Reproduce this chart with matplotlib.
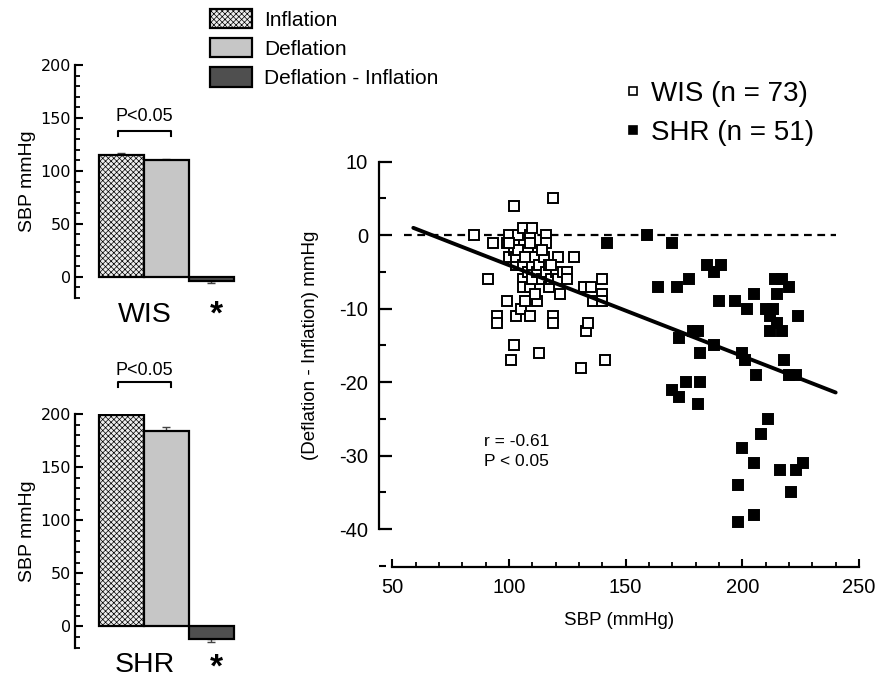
import numpy as np
import matplotlib
matplotlib.use('Agg')
import matplotlib.pyplot as plt
from matplotlib.patches import Patch
from matplotlib.lines import Line2D
from matplotlib.ticker import MultipleLocator

plt.rcParams['font.family'] = ['Liberation Sans', 'DejaVu Sans']
plt.rcParams['axes.unicode_minus'] = False
plt.rcParams['mathtext.fontset'] = 'custom'
plt.rcParams['mathtext.rm'] = 'Liberation Sans'
plt.rcParams['mathtext.bf'] = 'Liberation Sans:bold'
plt.rcParams['hatch.color'] = '#a6a6a6'
plt.rcParams['hatch.linewidth'] = 0.5

# bar panels: Inflation, Deflation, Deflation - Inflation
bar_labels = ['Inflation', 'Deflation', 'Deflation - Inflation']
wis_sbp = [115, 110, -4]
wis_err = [1.5, 1.5, 1.5]
shr_sbp = [199, 184, -12]
shr_err = [3, 3.5, 3]

# scatter: SBP (mmHg) vs (Deflation - Inflation) mmHg
wis_x = [85, 91, 93, 95, 95, 99, 99, 100, 100, 101, 102, 102, 102, 102, 103, 103, 103, 104,
         105, 106, 106, 106, 106, 107, 108, 108, 109, 109, 109, 109, 110, 110, 110, 111, 112,
         112, 113, 113, 114, 115, 116, 116, 116, 117, 117, 118, 119, 119, 119, 120, 121, 121,
         122, 123, 125, 125, 128, 131, 132, 133, 134, 135, 136, 140, 140, 140, 141, 104, 107,
         111, 114, 118, 100]
wis_y = [0, -6, -1, -11, -12, -9, -1, 0, -3, -17, 4, -15, -1, -2, -4, -3, -11, 0,
         -10, 1, -4, -6, -7, -9, -2, -5, 0, -1, -11, -7, 1, -4, -6, -3, -9,
         -5, -16, -4, -6, -3, 0, -1, -5, -7, -4, -6, 5, -11, -12, -5, -3, -6,
         -8, -5, -5, -6, -3, -18, -7, -13, -12, -7, -9, -6, -8, -9, -17, -2, -3,
         -8, -2, -4, -1]
shr_x = [142, 159, 170, 164, 172, 177, 185, 188, 191, 190, 173, 179, 181, 182, 188, 170, 173,
         176, 182, 181, 197, 202, 205, 200, 201, 206, 210, 212, 214, 217, 220, 215, 212, 215,
         217, 218, 220, 223, 224, 211, 208, 200, 205, 198, 198, 205, 216, 223, 226, 221, 213]
shr_y = [-1, 0, -1, -7, -7, -6, -4, -5, -4, -9, -14, -13, -13, -16, -15, -21, -22,
         -20, -20, -23, -9, -10, -8, -16, -17, -19, -10, -11, -6, -6, -7, -8, -13, -12,
         -13, -17, -19, -19, -11, -25, -27, -29, -31, -34, -39, -38, -32, -32, -31, -35, -10]
fit_x = [59, 240]
fit_y = [1.0, -21.4]
ref_x = [55, 240]

fig = plt.figure(figsize=(8.79, 6.82), dpi=100)

face = ['#ededed', '#c6c6c6', '#4f4f4f']
hatch = ['xxxxxx', None, None]


def bar_panel(ax, vals, errs, group, bracket_y, p_y, star_y):
    pos = np.arange(len(vals))
    lo = [e if v < 0 else 0 for v, e in zip(vals, errs)]
    hi = [e if v >= 0 else 0 for v, e in zip(vals, errs)]
    for i in range(len(vals)):
        ax.bar(pos[i], vals[i], width=0.98, color=face[i], hatch=hatch[i],
               edgecolor='black', linewidth=1.6, zorder=2)
    ax.errorbar(pos, vals, yerr=[lo, hi], fmt='none', ecolor='#444444',
                elinewidth=1, capsize=3, capthick=1, zorder=1)
    ax.set_xlim(-1.033, 2.6)
    ax.set_ylim(-20, 200)
    for s in ['top', 'right', 'bottom']:
        ax.spines[s].set_visible(False)
    ax.spines['left'].set_linewidth(1.6)
    ax.spines['left'].set_bounds(-20, 200)
    ax.set_xticks([])
    ax.yaxis.set_major_locator(MultipleLocator(50))
    ax.yaxis.set_minor_locator(MultipleLocator(10))
    ax.tick_params(axis='y', which='major', direction='in', length=6, width=1.5,
                   labelsize=11.5, pad=3)
    ax.tick_params(axis='y', which='minor', direction='in', length=3.5, width=1.3)
    for t in ax.get_yticklabels():
        t.set_family('DejaVu Sans')
    ax.set_ylabel('SBP mmHg', fontsize=14, labelpad=3)
    ax.patch.set_alpha(0)
    x0, x1 = -0.07, 1.09
    ax.plot([x0, x0, x1, x1], [bracket_y - 5, bracket_y, bracket_y, bracket_y - 5],
            color='black', lw=1.5, clip_on=False)
    ax.text((x0 + x1) / 2, p_y, 'P<0.05', ha='center', va='center', fontsize=13)
    ax.text(0.52, -36, group, ha='center', va='center', fontsize=20.5, clip_on=False)
    ax.text(2.12, star_y, r'$\mathbf{*}$', ha='center', va='baseline', fontsize=24,
            clip_on=False)


ax1 = fig.add_axes([75 / 879, 1 - 298 / 682, 163.5 / 879, 233 / 682])
bar_panel(ax1, wis_sbp, wis_err, 'WIS', 138, 151.5, -43.6)
ax2 = fig.add_axes([75 / 879, 1 - 647.7 / 682, 163.5 / 879, 233.7 / 682])
bar_panel(ax2, shr_sbp, shr_err, 'SHR', 230, 240.5, -46.5)

handles = [Patch(facecolor=face[i], hatch=hatch[i], edgecolor='black', linewidth=1.6)
           for i in range(3)]
fig.legend(handles, bar_labels, loc='upper left', bbox_to_anchor=(210 / 879, 1 - 9 / 682),
           fontsize=15, frameon=False, handlelength=2.0, handleheight=1.05,
           labelspacing=0.4, handletextpad=0.6, borderpad=0, borderaxespad=0)

# scatter panel
ax = fig.add_axes([379 / 879, 1 - 566.7 / 682, 480 / 879, 405 / 682])
ax.plot(ref_x, [0, 0], color='black', lw=1.6, dashes=(3.5, 2.5), zorder=1)
ax.plot(wis_x, wis_y, 's', mfc='white', mec='black', ms=7.6, mew=1.4, zorder=3,
        label='WIS (n = 73)')
ax.plot(shr_x, shr_y, 's', mfc='black', mec='black', ms=7.6, mew=1.4, zorder=3,
        label='SHR (n = 51)')
ax.plot(fit_x, fit_y, color='black', lw=2.8, zorder=4, solid_capstyle='round')
ax.set_xlim(44.3, 250)
ax.set_ylim(-45.1, 10)
for s in ['top', 'right']:
    ax.spines[s].set_visible(False)
ax.spines['left'].set_bounds(-40, 10)
ax.spines['bottom'].set_bounds(50, 250)
ax.spines['left'].set_linewidth(1.6)
ax.spines['bottom'].set_linewidth(1.6)
ax.xaxis.set_minor_locator(MultipleLocator(10))
ax.yaxis.set_minor_locator(MultipleLocator(5))
ax.set_xticks(np.arange(50, 251, 50))
ax.set_yticks(np.arange(-40, 11, 10))
ax.tick_params(axis='y', which='major', direction='in', length=9.5, width=1.6,
               labelsize=14.5, pad=8)
ax.tick_params(axis='y', which='minor', direction='in', length=5, width=1.5)
ax.tick_params(axis='x', which='major', direction='in', length=6, width=1.5,
               labelsize=14.5, pad=8)
ax.tick_params(axis='x', which='minor', direction='in', length=3.5, width=1.3)
ax.set_xlabel('SBP (mmHg)', fontsize=13.5, labelpad=11)
ax.set_ylabel('(Deflation - Inflation) mmHg', fontsize=13.5)
ax.yaxis.set_label_coords(-0.125, 0.546)
ax.patch.set_alpha(0)
ax.text(89.3, -29.4, 'r = -0.61\nP < 0.05', ha='left', va='center', fontsize=12.5,
        linespacing=1.4)

sq = [Line2D([], [], ls='none', marker='s', mfc='white', mec='black', ms=5.5, mew=1.2),
      Line2D([], [], ls='none', marker='s', mfc='black', mec='black', ms=5.5, mew=1.2)]
fig.legend(sq, ['WIS (n = 73)', 'SHR (n = 51)'], loc='upper left',
           bbox_to_anchor=(626 / 879, 1 - 81 / 682), fontsize=20, frameon=False,
           handlelength=0.5, handletextpad=0.4, labelspacing=0.45, borderpad=0,
           borderaxespad=0)

fig.savefig('out.png', dpi=100)
